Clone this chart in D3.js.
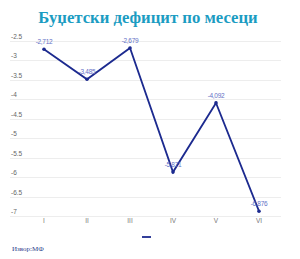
<!DOCTYPE html>
<html>
<head>
<meta charset="utf-8">
<script src="https://cdn.jsdelivr.net/npm/d3@7"></script>
<style>
  html, body { margin: 0; padding: 0; background: #fff; }
  svg { display: block; }
</style>
</head>
<body>
<div id="chart"></div>
<script>
'use strict';

// data
var months = ['I', 'II', 'III', 'IV', 'V', 'VI'];
var deficit = [-2.712, -3.485, -2.679, -5.871, -4.092, -6.876];
var yTicks = [-2.5, -3, -3.5, -4, -4.5, -5, -5.5, -6, -6.5, -7];

var width = 300, height = 259;
var svg = d3.select('#chart')
  .append('svg')
  .attr('width', width)
  .attr('height', height);

// title
svg.append('text')
  .attr('x', 148)
  .attr('y', 23)
  .attr('text-anchor', 'middle')
  .attr('fill', '#1b9cc2')
  .attr('font-family', 'Liberation Serif, serif')
  .attr('font-weight', 'bold')
  .attr('font-size', 16.7)
  .text('Буџетски дефицит по месеци');

var x = d3.scalePoint()
  .domain(months)
  .range([44, 259]);

var y = d3.scaleLinear()
  .domain([-2.5, -7])
  .range([41, 216]);

// gridlines + y labels
var grid = svg.append('g');
grid.selectAll('line')
  .data(yTicks)
  .enter()
    .append('line')
    .attr('x1', 10)
    .attr('x2', 281)
    .attr('y1', function(d){ return Math.round(y(d)) + 0.5; })
    .attr('y2', function(d){ return Math.round(y(d)) + 0.5; })
    .attr('stroke', '#ededed')
    .attr('stroke-width', 1);

grid.selectAll('text')
  .data(yTicks)
  .enter()
    .append('text')
    .attr('x', 11)
    .attr('y', function(d){ return y(d) - 2; })
    .attr('fill', '#666')
    .attr('font-family', 'Liberation Sans, Arial, sans-serif')
    .attr('font-size', 6.5)
    .text(function(d){ return d; });

// x labels
svg.append('g').selectAll('text')
  .data(months)
  .enter()
    .append('text')
    .attr('x', function(d){ return x(d); })
    .attr('y', 223)
    .attr('text-anchor', 'middle')
    .attr('fill', '#777')
    .attr('font-family', 'Liberation Sans, Arial, sans-serif')
    .attr('font-size', 6.5)
    .text(function(d){ return d; });

// line
var line = d3.line()
  .x(function(d, i){ return x(months[i]); })
  .y(function(d){ return y(d); });

svg.append('path')
  .datum(deficit)
  .attr('fill', 'none')
  .attr('stroke', '#1c2a8f')
  .attr('stroke-width', 1.8)
  .attr('d', line);

svg.append('g').selectAll('circle')
  .data(deficit)
  .enter()
    .append('circle')
    .attr('cx', function(d, i){ return x(months[i]); })
    .attr('cy', function(d){ return y(d); })
    .attr('r', 1.8)
    .attr('fill', '#1c2a8f');

// value labels
svg.append('g').selectAll('text')
  .data(deficit)
  .enter()
    .append('text')
    .attr('x', function(d, i){ return x(months[i]); })
    .attr('y', function(d){ return y(d) - 5; })
    .attr('text-anchor', 'middle')
    .attr('fill', '#6470c6')
    .attr('font-family', 'Liberation Sans, Arial, sans-serif')
    .attr('font-size', 6.5)
    .attr('letter-spacing', -0.3)
    .text(function(d){ return String(d).replace('.', ','); });

// legend (series without name)
svg.append('line')
  .attr('x1', 142)
  .attr('x2', 151)
  .attr('y1', 237)
  .attr('y2', 237)
  .attr('stroke', '#1c2a8f')
  .attr('stroke-width', 1.8);

// source
svg.append('text')
  .attr('x', 12)
  .attr('y', 251)
  .attr('fill', '#2a3a8a')
  .attr('font-family', 'Liberation Serif, serif')
  .attr('font-size', 7)
  .text('Извор:МФ');
</script>
</body>
</html>
